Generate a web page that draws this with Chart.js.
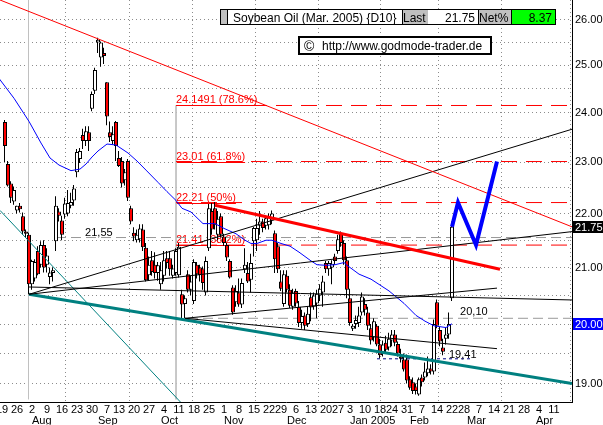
<!DOCTYPE html>
<html>
<head>
<meta charset="utf-8">
<script src="https://cdn.jsdelivr.net/npm/chart.js"></script>
<style>
  html, body { margin: 0; padding: 0; background: #fff; }
  #wrap { width: 603px; height: 425px; }
</style>
</head>
<body>
<div id="wrap"><canvas id="chart" width="603" height="425"></canvas></div>
<script>
// x = trading day index, 0 = Mon 19 Jul 2004 (holidays skipped)
const FONT = '"Liberation Sans", Arial, sans-serif';

const firstDay = 1;
const opens = [
  23.81, 22.96, 22.58, 22.23, 22.06, 22.15, 21.95, 21.66, 21.60, 20.70,
  20.80, 21.30, 21.05, 21.41, 21.05, 20.83, 20.90, 21.48, 22.04, 21.87,
  21.98, 22.00, 22.15, 22.25, 22.80, 23.06, 23.54, 23.42, 23.60, 24.08,
  24.46, 25.50, 25.17, 25.27, 24.64, 23.60, 23.42, 23.81, 23.08, 23.02,
  22.64, 23.02, 22.10, 21.64, 21.50, 21.52, 21.70, 21.36, 20.86, 21.13,
  21.05, 20.90, 20.70, 20.85, 21.17, 21.17, 20.85, 20.90, 20.86, 20.52,
  20.35, 20.88, 20.60, 20.40, 21.05, 21.00, 20.98, 20.55, 21.35, 22.05,
  22.10, 21.60, 21.95, 21.57, 21.41, 21.12, 20.64, 20.38, 20.55, 20.34,
  20.97, 20.90, 20.78, 21.48, 21.50, 21.77, 21.85, 21.77, 21.78, 21.87,
  21.63, 21.39, 20.75, 20.35, 20.85, 20.60, 20.30, 20.58, 20.30, 20.02,
  20.15, 20.00, 20.47, 20.30, 20.36, 20.50, 20.55, 21.08, 20.97, 21.00,
  21.20, 21.30, 21.62, 21.45, 21.13, 20.45, 19.92, 20.00, 20.02, 20.20,
  20.35, 20.20, 19.93, 19.77, 19.97, 19.65, 19.50, 19.68, 19.60, 19.72,
  19.82, 19.66, 19.45, 19.40, 19.40, 19.07, 19.02, 18.95, 18.82, 19.10,
  19.10, 19.17, 19.25, 19.20, 20.38, 19.90, 19.60, 19.75, 19.82, 20.45
];
const highs = [
  23.85, 23.02, 22.62, 22.52, 22.15, 22.20, 22.02, 21.70, 21.64, 21.14,
  21.15, 21.39, 21.48, 21.50, 21.35, 21.00, 21.00, 22.33, 22.10, 21.96,
  22.30, 22.45, 22.40, 22.55, 23.26, 23.28, 23.67, 23.72, 23.72, 24.44,
  24.95, 25.60, 25.52, 25.38, 24.64, 23.82, 23.72, 23.83, 23.22, 23.10,
  22.86, 23.06, 22.15, 21.74, 21.70, 21.80, 21.80, 21.45, 21.20, 21.30,
  21.28, 21.10, 21.10, 21.30, 21.30, 21.30, 21.05, 21.35, 21.45, 20.60,
  20.50, 20.95, 20.85, 21.15, 21.10, 21.05, 21.02, 21.20, 22.18, 22.20,
  22.22, 22.05, 22.00, 21.62, 21.45, 21.15, 20.68, 20.68, 20.80, 20.80,
  21.35, 21.10, 21.25, 21.75, 21.90, 22.05, 21.90, 21.96, 22.00, 22.06,
  21.68, 21.45, 20.95, 20.95, 20.95, 20.70, 20.62, 20.62, 20.40, 20.25,
  20.20, 20.30, 20.55, 20.55, 20.60, 20.70, 20.85, 21.12, 21.12, 21.13,
  21.25, 21.60, 21.66, 21.50, 21.20, 20.62, 20.00, 20.15, 20.30, 20.55,
  20.45, 20.30, 20.00, 20.10, 20.00, 19.75, 19.72, 19.80, 19.85, 19.90,
  19.90, 19.70, 19.58, 19.50, 19.48, 19.12, 19.10, 19.00, 19.10, 19.15,
  19.35, 19.45, 19.32, 20.08, 20.43, 19.95, 19.75, 19.95, 20.20, 21.85
];
const lows = [
  23.00, 22.52, 22.20, 22.17, 22.00, 22.02, 21.60, 21.55, 20.52, 20.60,
  20.75, 20.86, 21.00, 20.91, 20.91, 20.70, 20.75, 21.30, 21.85, 21.50,
  21.90, 21.95, 22.10, 22.15, 22.70, 22.98, 23.26, 23.32, 23.22, 24.03,
  24.39, 25.27, 24.97, 25.03, 23.74, 23.40, 23.35, 23.02, 22.90, 22.50,
  22.54, 22.24, 21.80, 21.48, 21.46, 21.46, 21.30, 20.75, 20.77, 20.85,
  20.80, 20.76, 20.60, 20.75, 20.98, 20.85, 20.80, 20.85, 20.82, 20.08,
  20.10, 20.55, 20.50, 20.35, 20.80, 20.75, 20.60, 20.50, 21.30, 21.60,
  21.70, 21.50, 21.55, 21.40, 21.12, 20.80, 20.16, 20.30, 20.30, 20.28,
  20.90, 20.72, 20.55, 21.20, 21.30, 21.60, 21.65, 21.70, 21.70, 21.80,
  20.90, 20.90, 20.58, 20.30, 20.55, 20.28, 20.25, 20.30, 19.95, 19.92,
  19.90, 19.95, 20.05, 20.25, 20.10, 20.40, 20.30, 20.90, 20.85, 20.70,
  21.05, 21.25, 21.38, 21.05, 20.45, 19.97, 19.88, 19.92, 19.95, 20.15,
  20.15, 19.90, 19.65, 19.70, 19.62, 19.42, 19.45, 19.50, 19.55, 19.62,
  19.62, 19.45, 19.35, 19.20, 19.00, 18.90, 18.83, 18.82, 18.80, 18.95,
  19.05, 19.12, 19.15, 19.15, 19.93, 19.62, 19.47, 19.65, 19.75, 20.40
];
const closes = [
  23.32, 22.54, 22.30, 22.45, 22.15, 22.08, 21.66, 21.62, 20.70, 21.12,
  21.10, 20.88, 21.41, 21.00, 21.22, 20.91, 20.95, 22.15, 21.96, 21.60,
  22.19, 22.20, 22.22, 22.48, 23.20, 23.22, 23.42, 23.62, 23.42, 24.39,
  24.90, 25.56, 25.50, 25.20, 23.92, 23.50, 23.56, 23.32, 22.92, 22.58,
  22.80, 22.30, 21.85, 21.57, 21.60, 21.72, 21.37, 20.77, 21.05, 20.92,
  20.90, 21.04, 20.95, 21.13, 21.08, 20.97, 20.98, 21.30, 21.38, 20.34,
  20.45, 20.60, 20.75, 21.10, 20.88, 20.86, 20.72, 21.12, 22.10, 21.70,
  21.78, 21.90, 21.60, 21.45, 21.18, 20.82, 20.20, 20.58, 20.34, 20.72,
  21.05, 20.75, 21.08, 21.73, 21.73, 21.85, 21.73, 21.91, 21.95, 22.00,
  21.15, 20.97, 20.62, 20.88, 20.60, 20.32, 20.55, 20.36, 20.02, 20.14,
  19.97, 20.18, 20.29, 20.50, 20.53, 20.62, 20.75, 20.97, 21.08, 21.07,
  21.12, 21.52, 21.45, 21.13, 20.60, 20.02, 19.97, 20.07, 20.15, 20.48,
  20.25, 19.97, 19.72, 20.05, 19.65, 19.47, 19.65, 19.56, 19.75, 19.82,
  19.68, 19.50, 19.41, 19.23, 19.05, 18.93, 18.88, 18.88, 19.07, 19.02,
  19.20, 19.25, 19.20, 20.00, 19.97, 19.70, 19.53, 19.82, 20.00, 21.75
];

// moving average (blue)
const maDays = [-1, 4, 9, 13, 16, 19, 23, 26, 28, 30, 32, 35, 38, 42, 45, 48, 52, 55, 58, 60,
  63, 67, 71, 74, 78, 81, 83, 85, 88, 90, 93, 96, 99, 103, 105, 108, 111, 114, 115, 117,
  119, 123, 129, 134, 138, 141, 144, 148, 150];
const maValues = [24.72, 24.30, 23.82, 23.38, 23.08, 22.94, 22.83, 22.86, 22.96, 23.10, 23.22, 23.36,
  23.34, 23.18, 23.02, 22.84, 22.60, 22.42, 22.25, 22.10, 22.03, 21.81, 21.81, 21.72, 21.62, 21.50,
  21.44, 21.44, 21.50, 21.50, 21.44, 21.39, 21.28, 21.12, 21.05, 21.04, 21.05, 21.09, 21.04, 20.96,
  20.88, 20.79, 20.58, 20.36, 20.15, 20.05, 19.97, 19.94, 20.006];

// axis ticks
const weekTickDays = [0, 5, 10, 15, 20, 25, 30, 35, 39, 44, 49, 54, 59, 64, 69, 74, 79, 84, 89, 93,
  98, 103, 108, 112, 116, 121, 126, 130, 135, 140, 145, 150, 154, 159, 164, 169, 174, 179, 184];
const weekTickLabels = ['19', '26', '2', '9', '16', '23', '30', '7', '13', '20', '27', '4', '11', '18', '25',
  '1', '8', '15', '22', '29', '6', '13', '20', '27', '3', '10', '18', '24', '31', '7', '14', '22', '28',
  '7', '14', '21', '28', '4', '11'];
const monthDays = [10, 32, 53, 74, 95, 116, 136, 155, 178];
const monthNames = ['Aug', 'Sep', 'Oct', 'Nov', 'Dec', 'Jan 2005', 'Feb', 'Mar', 'Apr'];
const priceTicks = [19, 19.5, 20, 20.5, 21, 21.5, 22, 22.5, 23, 23.5, 24, 24.5, 25, 25.5, 26];

const xMin = -2 / 3, xMax = 190;
const yMin = 18.741, yMax = 26.4495;

// fibonacci retracement
const fibStartDay = 58;
const fibLevels = [24.1491, 23.01, 22.21, 21.41];
const fibLabels = ['24.1491 (78.6%)', '23.01 (61.8%)', '22.21 (50%)', '21.41 (38.2%)'];

// drawn trend lines [day, price]
const redThin = [[-0.67, 26.45], [190, 21.75]];
const redThick = [[71, 22.16], [166, 20.97]];
const fanUpper = [[9, 20.52], [190, 23.66]];
const fanMiddle = [[9, 20.52], [190, 21.66]];
const fanFlat = [[9, 20.65], [190, 20.42]];
const octUp = [[61, 20.10], [165, 20.63]];
const octDown = [[61, 20.10], [165, 19.58]];
const tealThick = [[9, 20.52], [190, 19.00]];
const tealThin = [[-0.67, 22.06], [59.67, 18.69]];
const projection = [[150, 21.75], [152, 22.21], [158, 21.41], [165, 23.01]];

// marked levels
const level2155 = 21.55, level2010 = 20.10, level1941 = 19.41;
const lastPrice = '21.75', netPercent = '8.37', maLast = '20.006';
const title = 'Soybean Oil (Mar. 2005) {D10}';

function seg(points, color, width, dash, order) {
  return {
    type: 'line',
    data: points.map(p => ({ x: p[0], y: p[1] })),
    borderColor: color,
    borderWidth: width,
    borderDash: dash || [],
    pointRadius: 0,
    tension: 0,
    fill: false,
    clip: 0,
    order: order
  };
}

const candleDays = opens.map((_, i) => firstDay + i);

const datasets = [];
fibLevels.forEach(l => datasets.push(seg([[fibStartDay, l], [xMax, l]], '#ff0000', 1, [16, 9], 30)));
datasets.push(seg([[fibStartDay, fibLevels[0]], [fibStartDay, yMin]], '#c0c0c0', 1, [], 30));
datasets.push(seg([[8.83, yMin], [8.83, yMax]], '#c0c0c0', 1, [], 30));
datasets.push(seg([[18, level2155], [xMax, level2155]], '#999999', 1, [10, 5], 30));
datasets.push(seg([[62, level2010], [xMax, level2010]], '#999999', 1, [10, 5], 30));
datasets.push(seg([[125, level1941], [157, level1941]], '#000080', 1, [3, 3], 30));

// wicks, shifted half a pixel so a 1px bar stays crisp
datasets.push({
  type: 'bar',
  data: candleDays.map((d, i) => ({ x: d - 1 / 6, y: [lows[i], highs[i]] })),
  backgroundColor: '#000000',
  borderWidth: 0,
  barThickness: 1,
  grouped: false,
  inflateAmount: 0,
  order: 21
});
datasets.push({
  type: 'bar',
  data: candleDays.map((d, i) => ({ x: d, y: [Math.min(opens[i], closes[i]), Math.max(opens[i], closes[i])] })),
  backgroundColor: candleDays.map((d, i) => closes[i] >= opens[i] ? '#ffffff' : '#ff0000'),
  borderColor: '#000000',
  borderWidth: 1,
  borderSkipped: false,
  barThickness: 4,
  grouped: false,
  inflateAmount: 0,
  order: 20
});

datasets.push(seg(maDays.map((d, i) => [d, maValues[i]]), '#0000ff', 1, [], 15));
datasets.push(seg(redThin, '#ff0000', 1, [], 10));
datasets.push(seg(redThick, '#ff0000', 3, [], 10));
datasets.push(seg(fanUpper, '#000000', 1, [], 10));
datasets.push(seg(fanMiddle, '#000000', 1, [], 10));
datasets.push(seg(fanFlat, '#000000', 1, [], 10));
datasets.push(seg(octUp, '#000000', 1, [], 10));
datasets.push(seg(octDown, '#000000', 1, [], 10));
datasets.push(seg(tealThick, '#008080', 3, [], 10));
datasets.push(seg(tealThin, '#008080', 1, [], 10));
datasets.push(seg(projection, '#0000ff', 4, [], 5));

const annotations = {
  id: 'annotations',
  beforeDatasetsDraw(chart) {
    const { ctx, scales: { x, y } } = chart;
    ctx.save();
    ctx.font = '11px ' + FONT;
    ctx.fillStyle = '#ff0000';
    ctx.strokeStyle = '#ff0000';
    ctx.lineWidth = 1;
    ctx.textAlign = 'left';
    ctx.textBaseline = 'alphabetic';
    fibLevels.forEach((lvl, i) => {
      const px = x.getPixelForValue(fibStartDay);
      const py = Math.round(y.getPixelForValue(lvl));
      ctx.fillText(fibLabels[i], px, py - 2);
      const w = ctx.measureText(fibLabels[i]).width;
      ctx.beginPath();
      ctx.moveTo(px, py + 0.5);
      ctx.lineTo(px + w, py + 0.5);
      ctx.stroke();
    });
    ctx.restore();
  },
  afterDatasetsDraw(chart) {
    const { ctx, scales: { x, y } } = chart;
    ctx.save();
    ctx.font = '11px ' + FONT;
    ctx.fillStyle = '#000000';
    ctx.textAlign = 'left';
    ctx.textBaseline = 'alphabetic';
    ctx.fillText('21,55', x.getPixelForValue(27.7), y.getPixelForValue(level2155) - 2);
    ctx.fillText('20,10', x.getPixelForValue(152.7), y.getPixelForValue(level2010) - 3);
    ctx.fillText('19,41', x.getPixelForValue(149), y.getPixelForValue(level1941) - 1);
    ctx.restore();
  },
  afterDraw(chart) {
    const { ctx, scales: { y } } = chart;
    ctx.save();
    // title strip
    const t = 10, h = 14;
    const cells = [[220, 7, '#c0c0c0'], [227, 175, '#ffffff'], [402, 26, '#c0c0c0'],
      [428, 50, '#ffffff'], [478, 33, '#c0c0c0'], [511, 44, '#00ff00']];
    cells.forEach(c => { ctx.fillStyle = c[2]; ctx.fillRect(c[0], t, c[1], h); });
    ctx.strokeStyle = '#000000';
    ctx.lineWidth = 1;
    ctx.strokeRect(220.5, 9.5, 335, 15);
    [227, 402, 478, 511].forEach(px => {
      ctx.beginPath(); ctx.moveTo(px + 0.5, 9.5); ctx.lineTo(px + 0.5, 24.5); ctx.stroke();
    });
    ctx.font = '12px ' + FONT;
    ctx.fillStyle = '#000000';
    ctx.textBaseline = 'alphabetic';
    ctx.textAlign = 'left';
    ctx.fillText(title, 233, 21.5);
    ctx.fillText('Last', 403, 21.5);
    ctx.fillText('Net%', 479, 21.5);
    ctx.textAlign = 'right';
    ctx.fillText(lastPrice, 475, 21.5);
    ctx.fillText(netPercent, 552, 21.5);

    // copyright box
    ctx.fillStyle = '#ffffff';
    ctx.fillRect(299, 37, 192, 17);
    ctx.lineWidth = 2;
    ctx.strokeRect(299, 37, 192, 17);
    ctx.fillStyle = '#000000';
    ctx.textAlign = 'left';
    ctx.font = '14px ' + FONT;
    ctx.fillText('\u00A9', 304, 51);
    ctx.font = '12px ' + FONT;
    ctx.fillText('http://www.godmode-trader.de', 322, 50);

    // value flags on the price axis
    ctx.font = '11px ' + FONT;
    ctx.textBaseline = 'middle';
    const flag = (val, txt, bg) => {
      const py = Math.round(y.getPixelForValue(val));
      ctx.fillStyle = bg;
      ctx.fillRect(573, py - 6, 30, 12);
      ctx.fillStyle = '#ffffff';
      ctx.fillText(txt, 575, py + 0.5);
    };
    flag(parseFloat(lastPrice), lastPrice, '#000000');
    flag(parseFloat(maLast), maLast, '#0000ff');
    ctx.restore();
  }
};

// keep the plot area flush with the canvas edges
function noPad(s) {
  s.paddingLeft = 0; s.paddingRight = 0; s.paddingTop = 0; s.paddingBottom = 0;
}

Chart.defaults.font.family = FONT;
Chart.defaults.font.size = 11;
Chart.defaults.color = '#000000';

new Chart(document.getElementById('chart'), {
  type: 'bar',
  data: { datasets },
  options: {
    responsive: false,
    maintainAspectRatio: false,
    devicePixelRatio: 1,
    animation: false,
    events: [],
    layout: { padding: 0, autoPadding: false },
    plugins: { legend: { display: false }, tooltip: { enabled: false } },
    scales: {
      x: {
        type: 'linear', position: 'bottom', min: xMin, max: xMax, offset: false, weight: 0,
        grid: { display: false, drawTicks: false },
        border: { display: true, color: '#000000', width: 1 },
        ticks: {
          autoSkip: false, maxRotation: 0, minRotation: 0, padding: 1,
          callback: (v, i) => weekTickLabels[i]
        },
        afterBuildTicks: s => { s.ticks = weekTickDays.map(v => ({ value: v })); },
        afterFit: s => { s.height = 12; noPad(s); }
      },
      xm: {
        type: 'linear', position: 'bottom', min: xMin, max: xMax, offset: false, weight: 1,
        grid: { display: true, drawTicks: false, color: '#8c8c8c', lineWidth: 1 },
        border: { display: false, dash: [1, 3] },
        ticks: {
          autoSkip: false, maxRotation: 0, minRotation: 0, padding: 0, align: 'start',
          callback: (v, i) => monthNames[i]
        },
        afterBuildTicks: s => { s.ticks = monthDays.map(v => ({ value: v })); },
        afterFit: s => { s.height = 11; noPad(s); }
      },
      y: {
        type: 'logarithmic', position: 'right', min: yMin, max: yMax,
        grid: { display: true, drawTicks: false, color: '#8c8c8c', lineWidth: 1 },
        border: { display: true, color: '#000000', width: 1, dash: [1, 3] },
        ticks: {
          autoSkip: false, padding: 3,
          callback: v => Number.isInteger(v) ? v.toFixed(2) : ''
        },
        afterBuildTicks: s => { s.ticks = priceTicks.map(v => ({ value: v })); },
        afterFit: s => { s.width = 31; noPad(s); }
      }
    }
  },
  plugins: [annotations]
});
</script>
</body>
</html>
